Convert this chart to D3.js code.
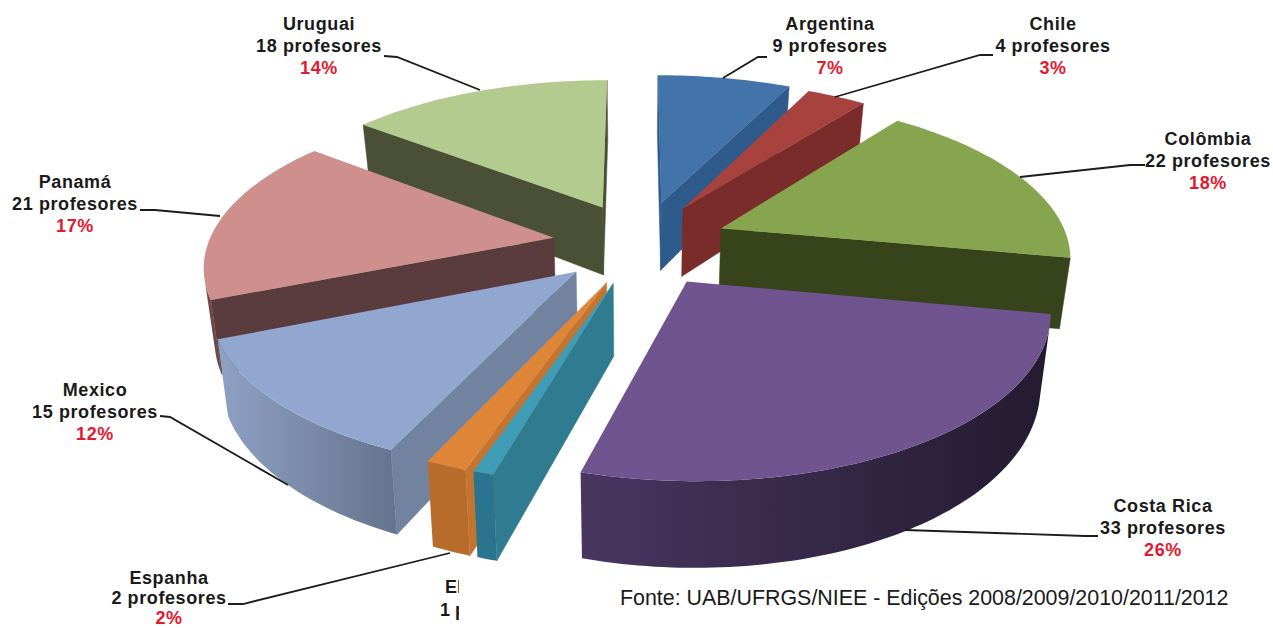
<!DOCTYPE html>
<html><head><meta charset="utf-8">
<script src="https://cdnjs.cloudflare.com/ajax/libs/d3/7.8.5/d3.min.js"></script>
<style>html,body{margin:0;padding:0;background:#fff;overflow:hidden}
text{font-family:"Liberation Sans",Arial,sans-serif;font-weight:700;text-anchor:middle}</style>
</head><body><svg id="c" width="1273" height="628"></svg>
<script>
const countries=["Argentina","Chile","Colômbia","Costa Rica","El Salvador","Espanha","Mexico","Panamá","Uruguai"];
const teachers=[9,4,22,33,1,2,15,21,18];
const percents=["7%","3%","18%","26%","1%","2%","12%","17%","14%"];
const topColors=["#4273A9","#A8423E","#87A54F","#6F5490","#3E9CB6","#DE8537","#91A7CF","#CE8F8D","#B4CB90"];
const sideColors=["#2E5B8C","#7A2C2A","#37431A","#46345F","#2F7B90","#C4742E","#71839F","#5A3C3E","#4A5036"];
const rimStart=["#2E5B8C","#7A2C2A","#3C4A1E","#241A30","#2B7490","#B86C2B","#66758F","#6E4748","#4A5036"];
const rimEnd=["#2E5B8C","#7A2C2A","#36431A","#48365F","#2B7490","#B86C2B","#8FA1C4","#8A5A5A","#4A5036"];
const explode=[.27,.26,.26,.27,.25,.25,.24,.235,.25];
const explodeTurn=[3,0,0,1,-3,-3,-3,0,3];
const radii=[1,1,.98,.97,.97,.97,.985,.973,.985];
const labelCenters=[[830,24],[1053,24],[1208,139],[1163,506],null,[169,578],[95,390],[75,182],[319,24]];
const labelGaps=[22,22,22,22,22,20,22,22,22];
const leaders=[
 [[767,57],[758,57],[723,78]],[[993,55],[980,55],[835,97]],[[1145,165],[1130,165],[1020,177]],
 [[1098,536],[1085,536],[905,530]],null,[[228,604],[243,604],[450,553]],
 [[160,416],[170,417],[288,485]],[[140,210],[155,210],[220,216]],[[384,56],[397,57],[480,90]]];
const source="Fonte: UAB/UFRGS/NIEE - Edições 2008/2009/2010/2011/2012";

const svg=d3.select("#c");
const defs=svg.append("defs");
const cx=636,cy=243,k=.16,depth=70;
const X=d3.scaleLinear().domain([-1,1]).range([cx-355,cx+355]);
const Y=d3.scaleLinear().domain([-1,1]).range([cy+160,cy-160]);
function project(u,v,z){
  const w=1+k*v;
  const x=X(u/w),y=Y(v/w)+depth*z/w;
  return [cx+(x-cx)*(1-.025*z),y];
}
const arcs=d3.pie().sort(null)(teachers);
const line=d3.line();
const slices=arcs.map((a,i)=>{
  const mid=(a.startAngle+a.endAngle)/2+explodeTurn[i]*Math.PI/180,e=explode[i];
  return {i,a,mid,r:radii[i],ou:e*Math.sin(mid),ov:e*Math.cos(mid)};
}).sort((p,q)=>q.ov-p.ov);
slices.forEach(s=>{
  const g=svg.append("g");
  const pt=(t,r,z)=>project(s.ou+s.r*r*Math.sin(t),s.ov+s.r*r*Math.cos(t),z);
  const n=Math.max(2,Math.ceil((s.a.endAngle-s.a.startAngle)/.02));
  const ts=d3.range(n+1).map(j=>s.a.startAngle+(s.a.endAngle-s.a.startAngle)*j/n);
  const wallA=[pt(0,0,0),pt(s.a.startAngle,1,0),pt(s.a.startAngle,1,1),pt(0,0,1)];
  const wallB=[pt(s.a.endAngle,1,0),pt(0,0,0),pt(0,0,1),pt(s.a.endAngle,1,1)];
  [wallA,wallB].forEach(q=>{
    if(d3.polygonArea(q)>0) g.append("path").attr("d",line(q)+"Z").attr("fill",sideColors[s.i]).attr("stroke",sideColors[s.i]).attr("stroke-width",.5);
  });
  // outer wall: the part of the rim that faces the viewer, as one shaded shape
  const facing=d3.range(n).filter(j=>d3.polygonArea([pt(ts[j],1,0),pt(ts[j],1,1),pt(ts[j+1],1,1),pt(ts[j+1],1,0)])<0);
  if(facing.length){
    const a=facing[0],b=facing[facing.length-1]+1;
    const run=ts.slice(a,b+1);
    const shape=run.map(t=>pt(t,1,0)).concat(run.slice().reverse().map(t=>pt(t,1,1)));
    const id="rim"+s.i, p0=pt(run[0],1,0), p1=pt(run[run.length-1],1,0);
    const gr=defs.append("linearGradient").attr("id",id).attr("gradientUnits","userSpaceOnUse")
      .attr("x1",p0[0]).attr("y1",0).attr("x2",p1[0]).attr("y2",0);
    gr.append("stop").attr("offset",0).attr("stop-color",rimStart[s.i]);
    gr.append("stop").attr("offset",1).attr("stop-color",rimEnd[s.i]);
    g.append("path").attr("d",line(shape)+"Z").attr("fill","url(#"+id+")");
  }
  const top=[pt(0,0,0)].concat(ts.map(t=>pt(t,1,0)));
  g.append("path").attr("d",line(top)+"Z").attr("fill",topColors[s.i]);
});
const fs=18;
leaders.forEach(l=>{ if(l) svg.append("path").attr("d",line(l)).attr("fill","none").attr("stroke","#1c1c1c").attr("stroke-width",1.8);});
countries.forEach((c,i)=>{
  const p=labelCenters[i]; if(!p) return;
  const lh=labelGaps[i];
  const t=svg.append("text").attr("font-size",fs).attr("letter-spacing",.6);
  t.append("tspan").attr("x",p[0]).attr("y",p[1]+6).attr("fill","#1a1a1a").text(c);
  t.append("tspan").attr("x",p[0]).attr("y",p[1]+6+lh).attr("fill","#1a1a1a").text(teachers[i]+" profesores");
  t.append("tspan").attr("x",p[0]).attr("y",p[1]+6+2*lh).attr("fill","#e3192f").text(percents[i]);
});
svg.append("clipPath").attr("id","cut").append("rect").attr("x",430).attr("y",570).attr("width",29).attr("height",58);
const cut=svg.append("g").attr("clip-path","url(#cut)");
cut.append("text").attr("x",445).attr("y",593).attr("font-size",fs).attr("fill","#1a1a1a").style("text-anchor","start").text("El");
cut.append("text").attr("x",440).attr("y",616).attr("font-size",fs).attr("fill","#1a1a1a").style("text-anchor","start").text("1 p");
svg.append("text").attr("x",620).attr("y",605).attr("font-size",21.4).attr("fill","#1a1a1a")
  .style("text-anchor","start").style("font-weight",400).text(source);
</script></body></html>
